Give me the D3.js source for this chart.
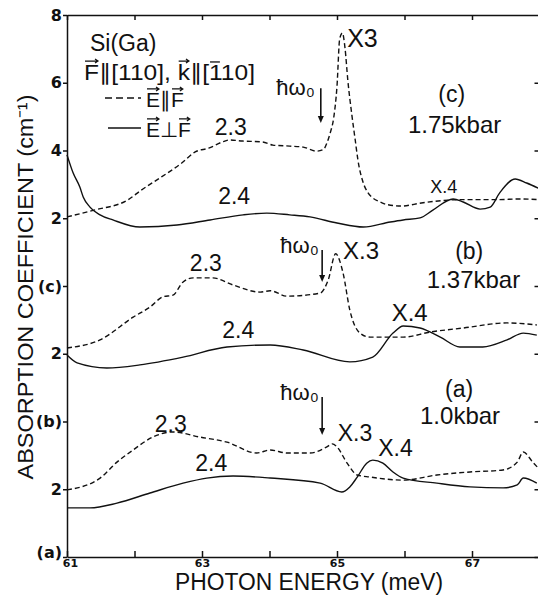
<!DOCTYPE html>
<html>
<head>
<meta charset="utf-8">
<script src="https://cdn.jsdelivr.net/npm/d3@7"></script>
<style>
body { margin: 0; background: #fff; }
svg { display: block; background: #fff; }
.lab { font-family: "Liberation Sans", Arial, sans-serif; fill: #111; }
.axis path, .axis line { stroke: #111; stroke-width: 1.5; }
.axis text { font-family: "DejaVu Sans", sans-serif; font-weight: bold; fill: #111; }
.curve { fill: none; stroke: #111; stroke-width: 1.4; }
</style>
</head>
<body>
<div id="vis"></div>
<script>
// tick values and labels
var xTicks = [61, 62, 63, 64, 65, 66, 67, 68];
var xTickLabels = ['61', '', '63', '', '65', '', '67', ''];
var yTicks = [0, 2, 4, 6, 8, 10, 12, 14, 16];
var yTickLabels = ['(a)', '2', '(b)', '2', '(c)', '2', '4', '6', '8'];

// panels: offset of each trace pair on the shared y axis
var panelNames = ['(a)', '(b)', '(c)'];
var panelOffsets = [0, 4, 8];
var panelPressures = ['1.0kbar', '1.37kbar', '1.75kbar'];

// (c) 1.75 kbar
var cParE = [61.0, 61.4, 61.9, 62.1, 62.4, 62.7, 62.9, 63.1, 63.3, 63.4, 63.6, 63.9, 64.05, 64.3, 64.5, 64.7, 64.8, 64.85, 64.9, 64.95, 65.0, 65.04, 65.08, 65.12, 65.16, 65.22, 65.27, 65.31, 65.39, 65.46, 65.53, 65.64, 65.75, 65.95, 66.25, 66.55, 66.85, 67.4, 67.7, 68.0];
var cParV = [2.04, 2.24, 2.54, 2.83, 3.22, 3.63, 3.96, 4.07, 4.25, 4.31, 4.28, 4.25, 4.16, 4.13, 4.10, 3.98, 4.03, 4.22, 4.52, 4.95, 5.9, 7.3, 7.47, 7.0, 6.08, 5.05, 4.31, 3.72, 3.04, 2.75, 2.6, 2.48, 2.4, 2.36, 2.45, 2.52, 2.55, 2.55, 2.57, 2.55];
var cPerpE = [61.0, 61.09, 61.19, 61.24, 61.34, 61.49, 61.68, 62.08, 62.63, 63.12, 63.61, 63.96, 64.30, 64.60, 65.0, 65.39, 65.79, 65.98, 66.23, 66.42, 66.72, 66.87, 67.12, 67.27, 67.41, 67.64, 67.81, 67.98];
var cPerpV = [3.87, 3.34, 2.92, 2.63, 2.33, 2.10, 1.95, 1.74, 1.80, 1.95, 2.10, 2.15, 2.10, 2.04, 1.86, 1.74, 1.89, 1.95, 2.01, 2.24, 2.57, 2.48, 2.27, 2.33, 2.75, 3.16, 3.04, 2.89];

// (b) 1.37 kbar
var bParE = [61.0, 61.49, 61.98, 62.23, 62.42, 62.57, 62.72, 62.87, 63.16, 63.46, 63.86, 64.01, 64.26, 64.75, 64.87, 64.98, 65.09, 65.19, 65.34, 65.49, 65.98, 66.38, 66.87, 67.52, 67.96];
var bParV = [2.17, 2.41, 3.08, 3.38, 3.68, 3.73, 4.12, 4.24, 4.24, 4.03, 3.82, 3.86, 3.70, 3.79, 4.18, 4.95, 4.38, 3.29, 2.61, 2.49, 2.49, 2.64, 2.76, 2.91, 2.85];
var bPerpE = [61.0, 61.15, 61.59, 62.08, 62.72, 63.37, 64.01, 64.50, 65.19, 65.53, 65.83, 65.98, 66.23, 66.53, 66.82, 67.16, 67.52, 67.76, 67.96];
var bPerpV = [1.96, 1.73, 1.58, 1.67, 1.90, 2.20, 2.26, 2.11, 1.76, 1.90, 2.61, 2.82, 2.76, 2.49, 2.20, 2.20, 2.41, 2.61, 2.55];

// (a) 1.0 kbar
var aParE = [61.0, 61.49, 61.74, 61.98, 62.27, 62.57, 62.97, 63.37, 63.81, 64.01, 64.26, 64.60, 64.85, 64.93, 65.0, 65.15, 65.30, 65.49, 65.98, 66.48, 66.97, 67.46, 67.67, 67.76, 67.90, 67.98];
var aParV = [1.98, 2.33, 2.80, 3.16, 3.54, 3.69, 3.54, 3.39, 3.07, 3.16, 3.07, 3.07, 3.25, 3.34, 3.25, 2.77, 2.42, 2.36, 2.27, 2.42, 2.51, 2.57, 2.80, 3.10, 2.80, 2.63];
var aPerpE = [61.0, 61.34, 61.74, 62.23, 62.72, 63.07, 63.46, 64.01, 64.75, 65.07, 65.19, 65.30, 65.44, 65.53, 65.68, 65.83, 65.98, 66.48, 66.97, 67.46, 67.67, 67.76, 67.96];
var aPerpV = [1.45, 1.45, 1.59, 1.89, 2.18, 2.33, 2.39, 2.33, 2.18, 1.92, 2.07, 2.36, 2.77, 2.86, 2.77, 2.51, 2.33, 2.18, 2.07, 2.04, 2.13, 2.33, 2.18];

var width = 538;
var height = 596;

var svg = d3.select('#vis')
            .append('svg')
            .attr('width', width)
            .attr('height', height);

var x = d3.scaleLinear().domain([61, 68]).range([67, 539.5]);
var y = d3.scaleLinear().domain([0, 16]).range([557, 15]);

//////////////////////////////// axes ////////////////////////////////
var xAxisG = svg.append('g')
    .attr('class', 'axis')
    .attr('transform', 'translate(0,557)')
    .call(d3.axisBottom(x).tickValues(xTicks)
        .tickFormat(function(d, i) { return xTickLabels[i]; })
        .tickSizeInner(-6).tickSizeOuter(0).tickPadding(2));
xAxisG.selectAll('text').style('font-size', '11px');
// nudge the first label clear of the "(a)" tick label
xAxisG.selectAll('text').filter(function(d) { return d === 61; }).attr('x', 3);

svg.append('g')
    .attr('class', 'axis')
    .attr('transform', 'translate(0,15)')
    .call(d3.axisTop(x).tickValues(xTicks).tickFormat('')
        .tickSizeInner(-5).tickSizeOuter(0));

var yAxisG = svg.append('g')
    .attr('class', 'axis')
    .attr('transform', 'translate(67,0)')
    .call(d3.axisLeft(y).tickValues(yTicks)
        .tickFormat(function(d, i) { return yTickLabels[i]; })
        .tickSizeInner(4).tickSizeOuter(0).tickPadding(1));
yAxisG.selectAll('text').style('font-size', '16px');
yAxisG.selectAll('text').filter(function(d) { return d === 0; }).attr('dy', '0.05em');

svg.append('g')
    .attr('class', 'axis')
    .attr('transform', 'translate(539.5,0)')
    .call(d3.axisRight(y).tickValues(yTicks.slice(0, 8)).tickFormat('')
        .tickSizeInner(-5).tickSizeOuter(0));

svg.append('text')
    .attr('class', 'lab')
    .attr('x', 175).attr('y', 590)
    .attr('textLength', 268).attr('lengthAdjust', 'spacingAndGlyphs')
    .style('font-size', '23px')
    .text('PHOTON  ENERGY (meV)');

svg.append('text')
    .attr('class', 'lab')
    .attr('transform', 'translate(33,287) rotate(-90)')
    .attr('text-anchor', 'middle')
    .attr('textLength', 385).attr('lengthAdjust', 'spacingAndGlyphs')
    .style('font-size', '22px')
    .text('ABSORPTION  COEFFICIENT (cm⁻¹)');

//////////////////////////////// curves ////////////////////////////////
var line = d3.line()
    .x(function(d) { return x(d.e); })
    .y(function(d) { return y(d.v); })
    .curve(d3.curveMonotoneX);

function pts(es, vs, off) {
    return es.map(function(e, i) { return { e: e, v: vs[i] + off }; });
}

var curves = [
    { d: pts(aParE, aParV, panelOffsets[0]), dash: true },
    { d: pts(aPerpE, aPerpV, panelOffsets[0]), dash: false },
    { d: pts(bParE, bParV, panelOffsets[1]), dash: true },
    { d: pts(bPerpE, bPerpV, panelOffsets[1]), dash: false },
    { d: pts(cParE, cParV, panelOffsets[2]), dash: true },
    { d: pts(cPerpE, cPerpV, panelOffsets[2]), dash: false }
];

svg.selectAll('path.curve')
    .data(curves)
    .enter().append('path')
    .attr('class', 'curve')
    .attr('d', function(c) { return line(c.d); })
    .attr('stroke-dasharray', function(c) { return c.dash ? '5,3' : null; });

//////////////////////////////// labels ////////////////////////////////
function label(txt, e, v, size) {
    return svg.append('text')
        .attr('class', 'lab')
        .attr('x', x(e)).attr('y', y(v))
        .style('font-size', size + 'px')
        .text(txt);
}

function downArrow(e, v1, v2) {
    var px = x(e), y1 = y(v1), y2 = y(v2);
    svg.append('line')
        .attr('x1', px).attr('x2', px).attr('y1', y1).attr('y2', y2 - 5)
        .attr('stroke', '#111').attr('stroke-width', 1.6);
    svg.append('path')
        .attr('d', 'M' + (px - 3) + ',' + (y2 - 7) + 'L' + (px + 3) + ',' + (y2 - 7) + 'L' + px + ',' + y2 + 'Z')
        .attr('fill', '#111');
}

// (c)
label('2.3', 63.19, 12.46, 23);
label('2.4', 63.24, 10.42, 23);
label('X3', 65.15, 15.06, 25);
label('ħω₀', 64.10, 13.64, 22);
downArrow(64.76, 13.84, 12.81);
label(panelNames[2], 66.50, 13.43, 23);
label(panelPressures[2], 66.05, 12.52, 24);
label('X.4', 66.38, 10.75, 18);

// (b)
label('2.3', 62.82, 8.44, 23);
label('2.4', 63.30, 6.46, 23);
label('ħω₀', 64.16, 8.97, 22);
downArrow(64.78, 9.06, 8.12);
label('X.3', 65.09, 8.80, 24);
label(panelNames[1], 66.75, 8.80, 23);
label(panelPressures[1], 66.33, 7.94, 24);
label('X.4', 65.81, 6.97, 24);

// (a)
label('2.3', 62.30, 3.69, 23);
label('2.4', 62.90, 2.54, 23);
label('ħω₀', 64.16, 4.63, 22);
downArrow(64.78, 4.72, 3.60);
label('X.3', 65.01, 3.42, 23);
label('X.4', 65.61, 2.98, 23);
label(panelNames[0], 66.60, 4.72, 23);
label(panelPressures[0], 66.23, 3.93, 24);

//////////////////////////////// legend ////////////////////////////////
function vecArrows(t, idxs, base, size) {
    var node = t.node();
    idxs.forEach(function(i) {
        var ext = node.getExtentOfChar(i);
        var x1 = ext.x + 1, x2 = ext.x + ext.width - 1, yy = base - size * 0.86;
        svg.append('path')
            .attr('d', 'M' + x1 + ',' + yy + 'L' + x2 + ',' + yy +
                       'M' + (x2 - 3) + ',' + (yy - 2) + 'L' + x2 + ',' + yy + 'L' + (x2 - 3) + ',' + (yy + 2))
            .attr('fill', 'none').attr('stroke', '#111').attr('stroke-width', 1.2);
    });
}

svg.append('text').attr('class', 'lab')
    .attr('x', 90).attr('y', 51).style('font-size', '23px')
    .text('Si(Ga)');

var l2 = svg.append('text').attr('class', 'lab')
    .attr('x', 84).attr('y', 80).style('font-size', '22px')
    .attr('textLength', 171).attr('lengthAdjust', 'spacingAndGlyphs')
    .text('F∥[110], k∥[110]');
vecArrows(l2, [0, 9], 80, 22);
var ov = l2.node().getExtentOfChar(12);
svg.append('line')
    .attr('x1', ov.x + 1).attr('x2', ov.x + ov.width - 1)
    .attr('y1', 80 - 22 * 0.82).attr('y2', 80 - 22 * 0.82)
    .attr('stroke', '#111').attr('stroke-width', 1.3);

svg.append('line')
    .attr('x1', 105).attr('x2', 141).attr('y1', 98).attr('y2', 98)
    .attr('class', 'curve').attr('stroke-dasharray', '7,4');
var l3 = svg.append('text').attr('class', 'lab')
    .attr('x', 146).attr('y', 107).style('font-size', '21px')
    .text('E∥F');
vecArrows(l3, [0, 2], 107, 21);

svg.append('line')
    .attr('x1', 108).attr('x2', 141).attr('y1', 128).attr('y2', 128)
    .attr('class', 'curve');
var l4 = svg.append('text').attr('class', 'lab')
    .attr('x', 146).attr('y', 137).style('font-size', '21px')
    .text('E⊥F');
vecArrows(l4, [0, 2], 137, 21);
</script>
</body>
</html>
